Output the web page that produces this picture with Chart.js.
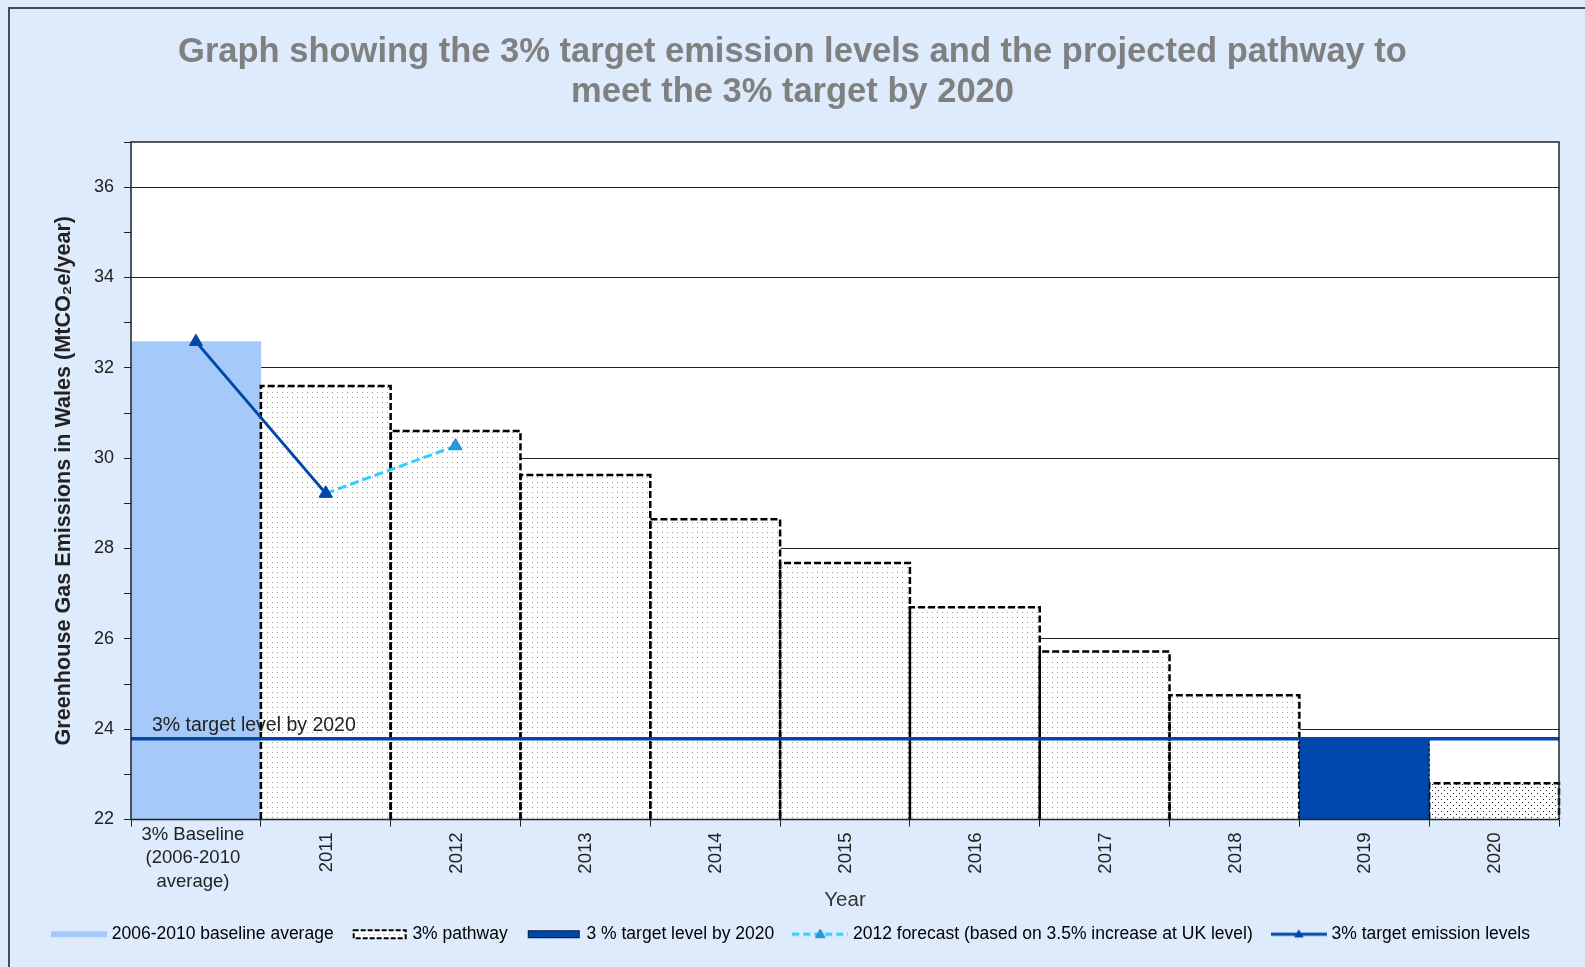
<!DOCTYPE html>
<html>
<head>
<meta charset="utf-8">
<script src="https://cdn.jsdelivr.net/npm/chart.js@4.4.1/dist/chart.umd.min.js"></script>
<style>
html,body{margin:0;padding:0;background:#DDEBFD;}
canvas{display:block;}
</style>
</head>
<body>
<canvas id="c" width="1585" height="967"></canvas>
<script>
// ---------- DATA ----------
const categories = [['3% Baseline', '(2006-2010', 'average)'], '2011', '2012', '2013', '2014', '2015', '2016', '2017', '2018', '2019', '2020'];
const baselineValues       = [32.58, null, null, null, null, null, null, null, null, null, null];
const pathwayValues        = [null, 31.6, 30.6, 29.63, 28.65, 27.68, 26.7, 25.72, 24.75, null, 22.8];
const targetBarValues      = [null, null, null, null, null, null, null, null, null, 23.79, null];
const forecastValues       = [null, 29.22, 30.27, null, null, null, null, null, null, null, null];
const targetEmissionValues = [32.58, 29.22, null, null, null, null, null, null, null, null, null];
const targetLevel = 23.79;
const yTickLabels = [22, 24, 26, 28, 30, 32, 34, 36];
const legendLabels = ['2006-2010 baseline average', '3% pathway', '3 % target level by 2020', '2012 forecast (based on 3.5% increase at UK level)', '3% target emission levels'];
const titleLines = ['Graph showing the 3% target emission levels and the projected pathway to', 'meet the 3% target by 2020'];

// ---------- STYLE ----------
const FONT = "'Liberation Sans', Arial, Helvetica, sans-serif";
const BG = '#DDEBFD';
const LIGHT_BLUE = '#A5CAF9';
const DARK_BLUE = '#0047AB';
const CYAN = '#33CCFF';
const CYAN_MARK = '#1E9DE0';

Chart.defaults.font.family = FONT;
Chart.defaults.color = '#222';

const canvas = document.getElementById('c');
const ctx = canvas.getContext('2d');

function dotPattern(w, h, dots, color) {
  const c = document.createElement('canvas');
  c.width = w; c.height = h;
  const g = c.getContext('2d');
  g.fillStyle = '#fff'; g.fillRect(0, 0, w, h);
  g.fillStyle = color;
  dots.forEach(d => g.fillRect(d[0], d[1], 1, 1));
  return ctx.createPattern(c, 'repeat');
}
const lightDots = dotPattern(5, 5, [[2, 2]], '#9a9a9a');
const darkDots = dotPattern(6, 6, [[1, 1], [4, 4]], '#222');

// legend swatches
function swatch(drawFn) {
  const c = document.createElement('canvas');
  c.width = 56; c.height = 14;
  drawFn(c.getContext('2d'));
  return c;
}
function tri(g, x, y, r, fill, stroke) {
  g.beginPath();
  g.moveTo(x, y - r);
  g.lineTo(x + r * 0.866, y + r * 0.5);
  g.lineTo(x - r * 0.866, y + r * 0.5);
  g.closePath();
  g.fillStyle = fill; g.fill();
  if (stroke) { g.strokeStyle = stroke; g.lineWidth = 1; g.stroke(); }
}
const swatches = [
  swatch(g => { g.fillStyle = LIGHT_BLUE; g.fillRect(0, 4, 56, 6); }),
  swatch(g => {
    g.fillStyle = lightDots; g.fillRect(2, 3, 52, 8);
    g.setLineDash([5, 2]); g.strokeStyle = '#000'; g.lineWidth = 2; g.strokeRect(2, 3, 52, 8);
  }),
  swatch(g => {
    g.fillStyle = DARK_BLUE; g.fillRect(2, 3, 52, 8);
    g.setLineDash([2, 1]); g.strokeStyle = '#000'; g.lineWidth = 1; g.strokeRect(2.5, 3.5, 51, 7);
  }),
  swatch(g => {
    g.setLineDash([7, 4]); g.strokeStyle = CYAN; g.lineWidth = 3;
    g.beginPath(); g.moveTo(0, 7); g.lineTo(56, 7); g.stroke();
    g.setLineDash([]); tri(g, 28, 7.5, 5.5, CYAN_MARK, '#2a7fc0');
  }),
  swatch(g => {
    g.strokeStyle = DARK_BLUE; g.lineWidth = 3;
    g.beginPath(); g.moveTo(0, 7); g.lineTo(56, 7); g.stroke();
    tri(g, 28, 7.5, 5.5, DARK_BLUE);
  })
];

// ---------- PLUGINS ----------
const frameBg = {
  id: 'frameBg',
  beforeDraw(chart) {
    const c = chart.ctx;
    c.save();
    c.fillStyle = BG; c.fillRect(0, 0, chart.width, chart.height);
    c.fillStyle = '#4a4a4a';
    c.fillRect(8, 7, 2, chart.height - 7);
    c.fillRect(8, 7, chart.width - 8, 2);
    const a = chart.chartArea;
    c.fillStyle = '#fff';
    c.fillRect(a.left, a.top, a.right - a.left, a.bottom - a.top);
    c.restore();
  }
};

const barBorders = {
  id: 'barBorders',
  afterDatasetDraw(chart, args) {
    const ds = chart.data.datasets[args.index];
    if (!ds.dashedBorder) return;
    const c = chart.ctx;
    c.save();
    c.setLineDash(ds.dashedBorder.dash);
    c.lineWidth = ds.dashedBorder.width;
    c.strokeStyle = '#000';
    args.meta.data.forEach((el, i) => {
      if (ds.data[i] === null || ds.data[i] === undefined) return;
      const p = el.getProps(['x', 'y', 'base', 'width'], true);
      const l = p.x - p.width / 2, r = p.x + p.width / 2;
      c.beginPath();
      c.moveTo(l, p.base);
      c.lineTo(l, p.y);
      c.lineTo(r, p.y);
      c.lineTo(r, p.base);
      c.stroke();
    });
    c.restore();
  }
};

const extras = {
  id: 'extras',
  afterDatasetsDraw(chart) {
    const c = chart.ctx, a = chart.chartArea;
    const xs = chart.scales.x, ys = chart.scales.y;
    c.save();
    // plot-area frame
    c.strokeStyle = '#222'; c.lineWidth = 1.5;
    c.strokeRect(a.left, a.top, a.right - a.left, a.bottom - a.top);
    // target label
    c.fillStyle = '#222';
    c.font = '19.5px ' + FONT;
    c.textAlign = 'left'; c.textBaseline = 'alphabetic';
    c.fillText('3% target level by 2020', a.left + 21, ys.getPixelForValue(targetLevel) - 8);
    // category labels
    c.font = '18.5px ' + FONT;
    categories.forEach((lab, i) => {
      const px = xs.getPixelForValue(i);
      if (Array.isArray(lab)) {
        c.textAlign = 'center'; c.textBaseline = 'middle';
        lab.forEach((line, j) => c.fillText(line, px - 3, xs.top + 15 + j * 23.5));
      } else {
        c.save();
        c.translate(px + 1, xs.top + 13);
        c.rotate(-Math.PI / 2);
        c.textAlign = 'right'; c.textBaseline = 'middle';
        c.fillText(lab, 0, 0);
        c.restore();
      }
    });
    c.restore();
  }
};

// ---------- CHART ----------
new Chart(ctx, {
  type: 'bar',
  data: {
    labels: categories,
    datasets: [
      {
        type: 'line', label: legendLabels[4], data: targetEmissionValues, order: 0,
        borderColor: DARK_BLUE, backgroundColor: DARK_BLUE, borderWidth: 3,
        pointStyle: 'triangle', pointRadius: 7.5, pointBackgroundColor: DARK_BLUE, pointBorderColor: DARK_BLUE,
        pointBorderWidth: 1, spanGaps: false
      },
      {
        type: 'line', label: legendLabels[3], data: forecastValues, order: 1,
        borderColor: CYAN, backgroundColor: CYAN_MARK, borderWidth: 3, borderDash: [9, 4],
        pointStyle: 'triangle', pointRadius: 7.5, pointBackgroundColor: CYAN_MARK, pointBorderColor: '#2a7fc0',
        pointBorderWidth: 1
      },
      {
        type: 'line', label: 'target level line', xAxisID: 'x2', order: 2,
        data: [{x: 0, y: targetLevel}, {x: 1, y: targetLevel}],
        borderColor: DARK_BLUE, borderWidth: 3.5, pointRadius: 0
      },
      {
        type: 'bar', label: legendLabels[2], data: targetBarValues, order: 3,
        backgroundColor: DARK_BLUE, borderWidth: 0,
        dashedBorder: {dash: [3, 2], width: 1}
      },
      {
        type: 'bar', label: legendLabels[1], data: pathwayValues, order: 4,
        backgroundColor: c => (c.dataIndex === categories.length - 1 ? darkDots : lightDots),
        borderWidth: 0,
        dashedBorder: {dash: [7, 3], width: 2.5}
      },
      {
        type: 'bar', label: legendLabels[0], data: baselineValues, order: 5,
        backgroundColor: LIGHT_BLUE, borderWidth: 0
      }
    ]
  },
  options: {
    responsive: false,
    animation: false,
    devicePixelRatio: 1,
    datasets: {
      bar: {grouped: false, base: 22, categoryPercentage: 1, barPercentage: 1}
    },
    layout: {padding: {left: 26, right: 26, top: 0, bottom: 14}},
    scales: {
      x: {
        type: 'category', offset: true,
        grid: {offset: true, drawOnChartArea: false, drawTicks: true, tickLength: 7, color: '#222', tickColor: '#222', lineWidth: 1},
        border: {display: false},
        ticks: {display: false},
        title: {display: true, text: 'Year', color: '#333', font: {size: 20.5}, padding: {top: 0, bottom: -9}},
        afterFit(s) { s.height = 84; }
      },
      x2: {type: 'linear', min: 0, max: 1, display: false, offset: false, grid: {offset: false}},
      y: {
        type: 'linear', min: 22, max: 37,
        border: {display: false},
        grid: {
          color: c => (c.tick && c.tick.value % 2 === 0 && c.tick.value > 22 ? '#222' : 'rgba(0,0,0,0)'),
          tickColor: '#222', tickLength: 7, lineWidth: 1
        },
        ticks: {
          stepSize: 1, autoSkip: false, padding: 10, color: '#222', font: {size: 18},
          callback: v => (yTickLabels.includes(v) ? String(v) : '')
        },
        title: {
          display: true, text: 'Greenhouse Gas Emissions in Wales (MtCO\u2082e/year)',
          color: '#222', font: {size: 21.6, weight: 'bold'}, padding: {top: 25, bottom: 0}
        },
        afterFit(s) { s.width = 105; }
      }
    },
    plugins: {
      title: {
        display: true, text: titleLines, color: '#808080',
        font: {size: 34.5, weight: 'bold', lineHeight: '40px'},
        padding: {top: 32, bottom: 30}
      },
      legend: {
        position: 'bottom',
        labels: {
          usePointStyle: true, pointStyleWidth: 48, padding: 22, color: '#222',
          font: {size: 17.5},
          generateLabels: () => legendLabels.map((t, i) => ({
            text: t, pointStyle: swatches[i], fillStyle: 'rgba(0,0,0,0)', strokeStyle: 'rgba(0,0,0,0)',
            lineWidth: 0, hidden: false, datasetIndex: 5 - i
          }))
        }
      },
      tooltip: {enabled: false}
    }
  },
  plugins: [frameBg, barBorders, extras]
});
</script>
</body>
</html>
